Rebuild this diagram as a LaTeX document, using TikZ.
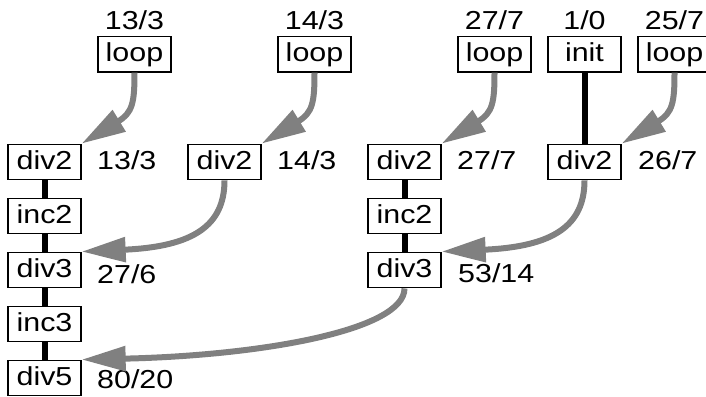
\documentclass[tikz,border=0pt]{standalone}
\usepackage{fontspec}
\setmainfont{Liberation Sans}[FakeStretch=1.17]
\usetikzlibrary{arrows.meta}
\definecolor{flowgray}{RGB}{128,128,128}
\begin{document}
\begin{tikzpicture}[x=1pt,y=-1pt,
  opbox/.style={draw=black, line width=1.3pt, minimum width=73pt, minimum height=35.5pt,
    inner sep=0pt, text height=18.5pt, text depth=4.5pt, font=\fontsize{26}{29}\selectfont},
  val/.style={inner sep=0pt, font=\fontsize{26}{29}\selectfont},
  chain/.style={line width=6pt, draw=black},
  flow/.style={line width=6pt, draw=flowgray, -{Triangle[length=44pt,width=24pt,fill=flowgray]}}
]
\useasboundingbox (0,0) rectangle (706,396);
\clip (0,0) rectangle (706,396);

% sources
\node[opbox] (loopA) at (134.5,54.2) {loop};
\node[opbox] (loopB) at (314.5,54.2) {loop};
\node[opbox] (loopC) at (494.5,54.2) {loop};
\node[opbox] (init)  at (584.5,54.2) {init};
\node[opbox] (loopD) at (674.5,54.2) {loop};

\node[val, anchor=base] (vLoopA) at (134.5,30) {13/3};
\node[val, anchor=base] (vLoopB) at (314.5,30) {14/3};
\node[val, anchor=base] (vLoopC) at (494.5,30) {27/7};
\node[val, anchor=base] (vInit)  at (584.5,30) {1/0};
\node[val, anchor=base] (vLoopD) at (674.5,30) {25/7};

% column 1
\node[opbox] (divA2) at (44.5,162) {div2};
\node[opbox] (incA2) at (44.5,216) {inc2};
\node[opbox] (divA3) at (44.5,270) {div3};
\node[opbox] (incA3) at (44.5,324) {inc3};
\node[opbox] (divA5) at (44.5,378) {div5};

% column 2
\node[opbox] (divB2) at (224.5,162) {div2};

% column 3
\node[opbox] (divC2) at (404.5,162) {div2};
\node[opbox] (incC2) at (404.5,216) {inc2};
\node[opbox] (divC3) at (404.5,270) {div3};

% column 4
\node[opbox] (divD2) at (584.5,162) {div2};

% values beside the operations
\node[val, anchor=base west] (vDivA2) at (97,169.3) {13/3};
\node[val, anchor=base west] (vDivB2) at (277,169.3) {14/3};
\node[val, anchor=base west] (vDivC2) at (457,169.3) {27/7};
\node[val, anchor=base west] (vDivD2) at (638,169.3) {26/7};
\node[val, anchor=base west] (vDivA3) at (97,283) {27/6};
\node[val, anchor=base west] (vDivC3) at (458,282) {53/14};
\node[val, anchor=base west] (vDivA5) at (97,388) {80/20};

% chains
\draw[chain] (divA2.south) -- (incA2.north);
\draw[chain] (incA2.south) -- (divA3.north);
\draw[chain] (divA3.south) -- (incA3.north);
\draw[chain] (incA3.south) -- (divA5.north);
\draw[chain] (divC2.south) -- (incC2.north);
\draw[chain] (incC2.south) -- (divC3.north);
\draw[chain] (init.south) -- (divD2.north);

% flows
\draw[flow] (loopA.south) .. controls +(0,30) and +(51,-31) .. (divA2.north east);
\draw[flow] (loopB.south) .. controls +(0,30) and +(51,-31) .. (divB2.north east);
\draw[flow] (loopC.south) .. controls +(0,30) and +(51,-31) .. (divC2.north east);
\draw[flow] (loopD.south) .. controls +(0,30) and +(51,-31) .. (divD2.north east);
\draw[flow] (divB2.south) .. controls +(0,45) and +(112,-5) .. (divA3.north east);
\draw[flow] (divD2.south) .. controls +(0,45) and +(112,-5) .. (divC3.north east);
\draw[flow] (divC3.south) .. controls +(0,42) and +(179,-4) .. (divA5.north east);
\end{tikzpicture}
\end{document}
